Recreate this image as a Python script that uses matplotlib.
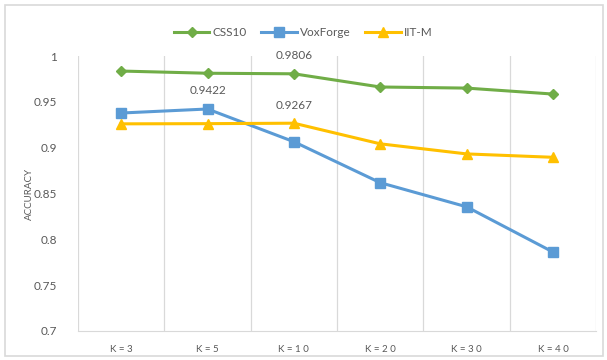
"""
plot.py: accuracy vs K for three speech corpora
"""
import matplotlib
matplotlib.use("Agg")
import matplotlib.pyplot as plt
import numpy as np
from matplotlib.patches import Rectangle

categories = ["K = 3", "K = 5", "K = 1 0", "K = 2 0", "K = 3 0", "K = 4 0"]
css10 = [0.9836, 0.9812, 0.9806, 0.9662, 0.9650, 0.9585]
voxforge = [0.9378, 0.9422, 0.9065, 0.8618, 0.8355, 0.7862]
iitm = [0.9260, 0.9262, 0.9267, 0.9042, 0.8932, 0.8895]

# which points carry a value label: (series, index)
labelled = [("css10", 2), ("voxforge", 1), ("iitm", 2)]

plt.rcParams["font.family"] = ["Lato", "DejaVu Sans"]
text_col = "#595959"
grid_col = "#d9d9d9"

fig = plt.figure(figsize=(6.07, 3.6), dpi=100)
ax = fig.add_axes([0.1285, 0.0806, 0.8535, 0.7638])

x = np.arange(len(categories))
series = {
    "css10": (css10, "CSS10", "#70ad47", "D", 5),
    "voxforge": (voxforge, "VoxForge", "#5b9bd5", "s", 7),
    "iitm": (iitm, "IIT-M", "#ffc000", "^", 7),
}
for key, (vals, name, col, mk, ms) in series.items():
    ax.plot(x, vals, color=col, lw=2.2, marker=mk, markersize=ms, label=name)

for key, idx in labelled:
    vals = series[key][0]
    ax.annotate(f"{vals[idx]:.4f}", (x[idx], vals[idx]), xytext=(0, 9),
                textcoords="offset points", ha="center", va="bottom",
                fontsize=8.5, color=text_col)

ax.set_xlim(-0.5, len(categories) - 0.5)
ax.set_ylim(0.7, 1.0)
ax.set_yticks(np.arange(0.7, 1.001, 0.05))
ax.set_yticklabels(["0.7", "0.75", "0.8", "0.85", "0.9", "0.95", "1"])
ax.set_xticks(x)
ax.set_xticklabels(categories)
ax.tick_params(axis="both", length=0, colors=text_col)
ax.tick_params(axis="y", labelsize=8.5, pad=15)
ax.tick_params(axis="x", labelsize=7, pad=10)

for b in np.arange(-0.5, len(categories), 1.0):
    ax.axvline(b, color=grid_col, lw=0.9, zorder=0)
for s in ["top", "left", "right"]:
    ax.spines[s].set_visible(False)
ax.spines["bottom"].set_color(grid_col)

ax.set_ylabel("ACCURACY", fontsize=7, color=text_col)
ax.yaxis.set_label_coords(-0.085, 0.5)

fig.legend(loc="upper center", bbox_to_anchor=(0.5, 0.955), ncol=3,
           frameon=False, fontsize=8.5, handlelength=3, columnspacing=1.2,
           handletextpad=0.3, labelcolor=text_col)

fig.patches.append(Rectangle((0.008, 0.012), 0.985, 0.975, transform=fig.transFigure,
                             fill=False, edgecolor=grid_col, lw=1.2))

fig.savefig("out.png", dpi=100)
